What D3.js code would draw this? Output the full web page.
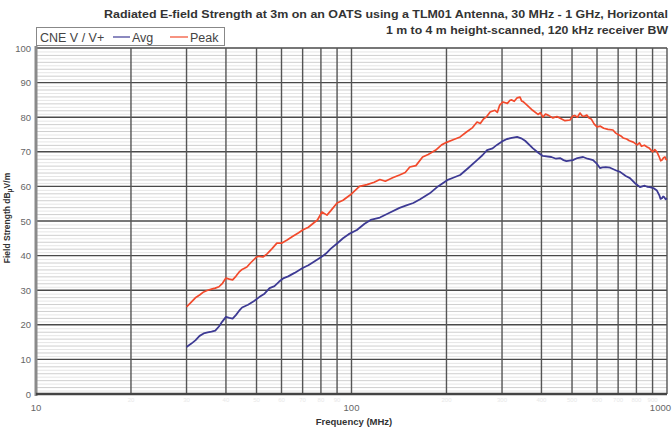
<!DOCTYPE html>
<html>
<head>
<meta charset="utf-8">
<script src="https://cdn.jsdelivr.net/npm/d3@7"></script>
<style>
  body { margin: 0; background: #fff; }
  text { font-family: Arial, "Liberation Sans", sans-serif; }
</style>
</head>
<body>
<svg id="chart" width="672" height="430"></svg>
<script>
// readings: [frequency MHz, dBuV/m]
var avg = [
  [30,13.6],[31,14.5],[32,15.5],[33,16.8],[34,17.5],[35,17.8],[36,18.0],[37,18.3],[38,19.5],[39,21.0],
  [40,22.3],[41,22.0],[42,21.8],[43,22.8],[44,24.0],[45,25.0],[47,25.8],[49,26.8],[51,28.0],[53,29.0],
  [55,30.6],[57,31.2],[59,32.5],[61,33.5],[63,34.0],[66,35.0],[70,36.4],[73,37.2],[76,38.2],[80,39.5],
  [83,40.6],[86,42.0],[90,43.5],[94,45.0],[98,46.2],[104,47.4],[110,49.2],[115,50.3],[123,51.0],[132,52.4],
  [142,53.8],[150,54.6],[157,55.2],[165,56.3],[177,58.0],[188,60.0],[201,61.8],[210,62.5],[221,63.3],[235,65.4],
  [250,67.6],[260,69.0],[269,70.5],[280,71.0],[289,72.0],[300,73.0],[311,73.7],[322,74.0],[335,74.3],[345,73.9],
  [355,73.2],[376,71.0],[390,69.8],[404,68.8],[430,68.5],[445,68.0],[458,68.2],[470,67.6],[480,67.3],[503,67.6],
  [520,68.2],[542,68.5],[560,68.0],[583,67.6],[600,66.5],[613,65.3],[625,65.5],[640,65.6],[660,65.4],[690,64.6],
  [710,64.2],[740,63.0],[763,62.4],[790,61.0],[805,60.4],[821,59.8],[850,60.2],[865,59.9],[883,59.8],[910,59.4],
  [929,58.8],[945,57.5],[954,56.4],[964,56.6],[972,57.1],[980,56.9],[990,56.3],[1000,56.6]
];
var peak = [
  [30,25.2],[31,26.5],[32,27.8],[33,28.6],[34,29.5],[35,30.0],[36,30.3],[37,30.6],[38,31.0],[39,32.0],
  [40,33.5],[41,33.2],[42,33.0],[43,34.0],[44,35.2],[45,36.0],[46.6,36.7],[48,38.0],[50,39.6],[51,39.8],
  [52.4,39.6],[54,40.5],[56,42.0],[58,43.6],[60,43.6],[62.5,44.5],[65,45.5],[68,46.6],[70,47.4],[73,48.2],
  [76,49.5],[78,50.3],[80.6,52.6],[83.6,51.7],[86,53.0],[90,55.2],[94,56.0],[99,57.5],[106,60.0],[112,60.5],
  [118,61.2],[123,62.0],[128,61.5],[135,62.5],[142,63.3],[148,64.0],[153,65.6],[160,66.0],[168,68.5],[175,69.2],
  [185,70.5],[193,72.0],[201,72.8],[210,73.5],[221,74.3],[232,75.8],[242,77.0],[250,78.6],[256,78.2],[262,79.5],
  [268,80.1],[275,81.5],[285,82.0],[290,81.4],[295,83.5],[302,84.4],[312,84.0],[318,84.9],[322,85.0],[328,84.6],
  [335,85.6],[342,85.8],[346,84.7],[350,84.5],[360,83.5],[375,82.0],[390,80.8],[397,81.3],[404,80.0],[412,80.9],
  [420,80.6],[435,79.8],[448,80.2],[460,79.6],[475,79.0],[493,79.2],[502,80.3],[510,80.5],[520,80.0],[530,81.2],
  [538,80.4],[545,80.2],[557,80.6],[566,79.8],[575,79.5],[588,78.0],[600,77.2],[615,77.4],[630,76.8],[650,76.5],
  [674,76.3],[688,75.4],[700,75.0],[714,74.6],[726,74.0],[745,73.7],[760,73.2],[782,72.8],[804,72.0],[818,72.6],
  [830,71.6],[848,71.9],[865,71.4],[880,71.0],[900,70.0],[915,70.6],[929,70.0],[945,68.5],[955,67.4],[964,67.6],
  [975,68.3],[985,68.5],[993,67.8],[1000,67.6]
];
var yTicks = [0, 10, 20, 30, 40, 50, 60, 70, 80, 90, 100];
var xLabels = [10, 100, 1000];
var xGrid = [10,20,30,40,50,60,70,80,90,100,200,300,400,500,600,700,800,900,1000];
var titleLines = [
  "Radiated E-field Strength at 3m on an OATS using a TLM01 Antenna, 30 MHz - 1 GHz, Horizontal",
  "1 m to 4 m height-scanned, 120 kHz receiver BW"
];

var svg = d3.select('#chart');
var plotL = 36, plotR = 667, plotT = 48, plotB = 394;

var x = d3.scaleLog().domain([10, 1000]).range([plotL, plotR]);
var y = d3.scaleLinear().domain([0, 100]).range([plotB, plotT]);

// light minor horizontal lines
var minor = d3.range(0, 100, 1).filter(function(v) { return v % 10 !== 0; });
svg.append('g').selectAll('line').data(minor).join('line')
  .attr('x1', plotL).attr('x2', plotR)
  .attr('y1', function(d) { return y(d) + 0.5; }).attr('y2', function(d) { return y(d) + 0.5; })
  .attr('stroke', function(d) { return d % 2 === 0 ? '#cfcfcf' : '#e6e6e6'; })
  .attr('stroke-width', 1);

// major horizontal
svg.append('g').selectAll('line').data(yTicks).join('line')
  .attr('x1', plotL).attr('x2', plotR)
  .attr('y1', function(d) { return y(d); }).attr('y2', function(d) { return y(d); })
  .attr('stroke', '#4a4a4a').attr('stroke-width', 1.4);

// vertical grid
svg.append('g').selectAll('line').data(xGrid).join('line')
  .attr('x1', function(d) { return x(d); }).attr('x2', function(d) { return x(d); })
  .attr('y1', plotT).attr('y2', plotB)
  .attr('stroke', '#555').attr('stroke-width', 1.4);

// axis frame
svg.append('line').attr('x1', plotL).attr('x2', plotL).attr('y1', plotT - 2).attr('y2', plotB + 2)
  .attr('stroke', '#8a8a8a').attr('stroke-width', 3);
svg.append('line').attr('x1', plotL).attr('x2', plotR).attr('y1', plotB).attr('y2', plotB)
  .attr('stroke', '#444').attr('stroke-width', 2.5);

// y tick labels
svg.append('g').selectAll('text').data(yTicks).join('text')
  .attr('x', plotL - 5).attr('y', function(d) { return y(d) + 3.5; })
  .attr('text-anchor', 'end').attr('font-size', 9.5).attr('fill', '#666')
  .text(function(d) { return d; });

// faint minor x labels
svg.append('g').selectAll('text').data(xGrid.filter(function(d) { return xLabels.indexOf(d) < 0; })).join('text')
  .attr('x', function(d) { return x(d); }).attr('y', 402)
  .attr('text-anchor', 'middle').attr('font-size', 6).attr('fill', '#e8e8e8')
  .text(function(d) { return d; });

// x labels
svg.append('g').selectAll('text').data(xLabels).join('text')
  .attr('x', function(d) { return d === 1000 ? 671 : x(d); }).attr('y', 411)
  .attr('text-anchor', function(d) { return d === 1000 ? 'end' : 'middle'; })
  .attr('font-size', 9.5).attr('fill', '#666')
  .text(function(d) { return d; });

svg.append('text').attr('x', 354).attr('y', 425).attr('text-anchor', 'middle')
  .attr('font-size', 9.5).attr('font-weight', 'bold').attr('fill', '#333')
  .text('Frequency (MHz)');

var yl = svg.append('text').attr('transform', 'translate(10,218) rotate(-90)')
  .attr('text-anchor', 'middle').attr('font-size', 8.5).attr('font-weight', 'bold').attr('fill', '#333');
yl.append('tspan').text('Field Strength dB');
yl.append('tspan').attr('dy', 2).attr('font-size', 6.5).text('\u03bc');
yl.append('tspan').attr('dy', -2).text('V/m');

// title
var titleWidths = [564, 282];
svg.append('g').selectAll('text').data(titleLines).join('text')
  .attr('x', 668).attr('y', function(d, i) { return 18 + i * 16; })
  .attr('text-anchor', 'end').attr('font-size', 10.5).attr('font-weight', 'bold').attr('fill', '#333')
  .attr('textLength', function(d, i) { return titleWidths[i]; })
  .attr('lengthAdjust', 'spacingAndGlyphs')
  .text(function(d) { return d; });

// series
var line = d3.line().x(function(d) { return x(d[0]); }).y(function(d) { return y(d[1]); });
svg.append('path').datum(peak).attr('d', line)
  .attr('fill', 'none').attr('stroke', '#f24a2c').attr('stroke-width', 1.7).attr('stroke-linejoin', 'round');
svg.append('path').datum(avg).attr('d', line)
  .attr('fill', 'none').attr('stroke', '#3d3a94').attr('stroke-width', 1.8).attr('stroke-linejoin', 'round');

// legend
var lg = svg.append('g');
lg.append('rect').attr('x', 36.5).attr('y', 27.5).attr('width', 188).attr('height', 18)
  .attr('fill', '#fff').attr('stroke', '#888').attr('stroke-width', 1);
lg.append('text').attr('x', 40).attr('y', 41.5).attr('font-size', 12.5).attr('fill', '#444').text('CNE V / V+');
lg.append('line').attr('x1', 113).attr('x2', 130).attr('y1', 37).attr('y2', 37).attr('stroke', '#3d3a94').attr('stroke-width', 1.2);
lg.append('text').attr('x', 132).attr('y', 41.5).attr('font-size', 12.5).attr('fill', '#444').text('Avg');
lg.append('line').attr('x1', 170).attr('x2', 188).attr('y1', 37).attr('y2', 37).attr('stroke', '#f24a2c').attr('stroke-width', 1.2);
lg.append('text').attr('x', 190).attr('y', 41.5).attr('font-size', 12.5).attr('fill', '#444').text('Peak');
</script>
</body>
</html>
